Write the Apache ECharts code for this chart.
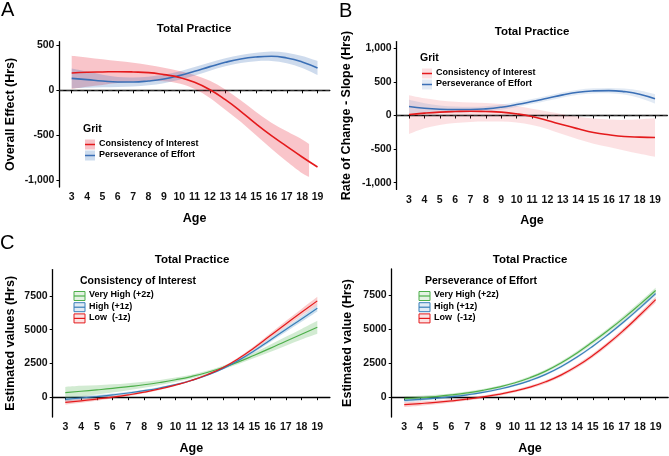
<!DOCTYPE html>
<html>
<head>
<meta charset="utf-8">
<title>Total Practice</title>
<script src="https://cdn.jsdelivr.net/npm/echarts@6/dist/echarts.min.js"></script>
<style>
    html, body { margin: 0; padding: 0; background: #fff; }
    #main { width: 669px; height: 456px; }
</style>
</head>
<body>
<div id="main"></div>
<script>
// ---- data ----
var ages = [3, 4, 5, 6, 7, 8, 9, 10, 11, 12, 13, 14, 15, 16, 17, 18, 19];
var ageTicks = ages;

// A: overall effect
var aTicks = [-1000, -500, 0, 500];
var aInterest = [193, 200, 204, 207, 204, 196, 174, 144, 89, 7, -104, -233, -374, -504, -622, -741, -852];
var aInterestBandAges = [3, 4, 5, 6, 7, 8, 9, 10, 11, 12, 13, 14, 15, 16, 17, 18, 18.45];
var aInterestHi = [385, 365, 345, 325, 305, 280, 250, 215, 170, 105, 10, -110, -240, -360, -455, -545, -595];
var aInterestLo = [15, 40, 60, 80, 95, 105, 100, 75, 15, -85, -215, -350, -500, -650, -790, -920, -960];
var aEffort = [133, 119, 104, 93, 93, 104, 126, 163, 211, 263, 311, 348, 370, 378, 359, 315, 248];
var aEffortHi = [243, 209, 174, 148, 143, 152, 173, 210, 258, 308, 356, 393, 417, 430, 417, 381, 326];
var aEffortLo = [23, 29, 34, 38, 43, 56, 79, 116, 164, 218, 266, 303, 323, 326, 301, 249, 170];

// B: rate of change
var bTicks = [-1000, -500, 0, 500, 1000];
var bInterest = [15, 35, 50, 59, 64, 59, 50, 25, -15, -74, -139, -198, -252, -287, -312, -322, -327];
var bInterestHi = [300, 255, 225, 205, 195, 185, 170, 140, 100, 60, 20, -20, -45, -60, -65, -55, -40];
var bInterestLo = [-275, -190, -140, -110, -95, -90, -90, -105, -140, -200, -280, -355, -420, -470, -520, -570, -615];
var bEffort = [134, 109, 94, 89, 89, 99, 124, 163, 208, 257, 307, 347, 366, 371, 356, 317, 248];
var bEffortHi = [234, 184, 149, 134, 129, 137, 162, 201, 246, 295, 345, 385, 404, 411, 401, 372, 318];
var bEffortLo = [34, 34, 39, 44, 49, 61, 86, 125, 170, 219, 269, 309, 328, 331, 311, 262, 178];

// C / D: estimated values
var cdTicks = [0, 2500, 5000, 7500];
var cVeryHigh = [340, 440, 540, 650, 780, 920, 1090, 1290, 1530, 1830, 2200, 2620, 3110, 3620, 4150, 4670, 5180];
var cVeryHighHi = [760, 840, 890, 950, 1040, 1140, 1280, 1450, 1670, 1960, 2330, 2780, 3320, 3890, 4480, 5060, 5660];
var cVeryHighLo = [-80, 40, 190, 350, 520, 700, 900, 1130, 1390, 1700, 2070, 2460, 2900, 3350, 3820, 4280, 4700];
var cHigh = [-170, -60, 50, 170, 310, 480, 680, 930, 1240, 1630, 2120, 2730, 3440, 4230, 5020, 5800, 6600];
var cHighHi = [0, 80, 170, 270, 395, 555, 750, 995, 1305, 1695, 2190, 2820, 3560, 4380, 5200, 6010, 6840];
var cHighLo = [-340, -200, -70, 70, 225, 405, 610, 865, 1175, 1565, 2050, 2640, 3320, 4080, 4840, 5590, 6360];
var cLow = [-380, -270, -140, 0, 170, 370, 610, 900, 1240, 1660, 2180, 2860, 3670, 4550, 5430, 6290, 7140];
var cLowHi = [-210, -130, -20, 100, 255, 445, 680, 965, 1305, 1725, 2255, 2960, 3800, 4720, 5640, 6540, 7440];
var cLowLo = [-550, -410, -260, -100, 85, 295, 540, 835, 1175, 1595, 2105, 2760, 3540, 4380, 5220, 6040, 6840];

var dVeryHigh = [-120, -50, 40, 160, 310, 500, 740, 1040, 1430, 1920, 2530, 3260, 4080, 4950, 5870, 6850, 7870];
var dVeryHighHi = [50, 100, 170, 270, 410, 595, 835, 1140, 1540, 2040, 2660, 3400, 4230, 5110, 6040, 7035, 8070];
var dVeryHighLo = [-290, -200, -90, 50, 210, 405, 645, 940, 1320, 1800, 2400, 3120, 3930, 4790, 5700, 6665, 7670];
var dHigh = [-240, -170, -80, 30, 170, 350, 580, 860, 1220, 1680, 2260, 2960, 3760, 4640, 5580, 6590, 7640];
var dHighHi = [-100, -50, 25, 120, 250, 425, 650, 930, 1295, 1760, 2345, 3050, 3855, 4740, 5690, 6710, 7780];
var dHighLo = [-380, -290, -185, -60, 90, 275, 510, 790, 1145, 1600, 2175, 2870, 3665, 4540, 5470, 6470, 7500];
var dLow = [-560, -480, -390, -280, -150, 10, 200, 440, 740, 1130, 1640, 2290, 3070, 3970, 4970, 6060, 7200];
var dLowHi = [-380, -320, -250, -160, -40, 110, 300, 545, 850, 1250, 1770, 2430, 3220, 4130, 5145, 6250, 7410];
var dLowLo = [-740, -640, -530, -400, -260, -90, 100, 335, 630, 1010, 1510, 2150, 2920, 3810, 4795, 5870, 6990];

// ---- style ----
var FONT = '"Liberation Sans", Arial, sans-serif';
var RED = '#e41a1c';
var BLUE = '#3a6fb6';
var BLUE2 = '#377eb8';
var GREEN = '#4daf4a';

function fmtComma(v) {
    return Number(v).toLocaleString('en-US');
}
function fmtPlain(v) {
    return String(v);
}

function pairs(xs, ys) {
    return xs.map(function (x, i) { return [x, ys[i]]; });
}

function xAxisCfg(gi) {
    return {
        type: 'value', gridIndex: gi, min: 2.2, max: 19.8,
        name: 'Age', nameLocation: 'middle', nameGap: 25,
        nameTextStyle: { fontFamily: FONT, fontWeight: 'bold', fontSize: 12.5, color: '#000' },
        axisLine: { lineStyle: { color: '#000', width: 1.3 } },
        axisTick: { show: true, length: 3, customValues: ageTicks, lineStyle: { color: '#000' } },
        axisLabel: { customValues: ageTicks, margin: 5, fontFamily: FONT, fontWeight: 'bold', fontSize: 10.5, color: '#111' },
        splitLine: { show: false }
    };
}

function yAxisCfg(gi, min, max, ticks, name, gap, fmt) {
    return {
        type: 'value', gridIndex: gi, min: min, max: max,
        name: name, nameLocation: 'middle', nameGap: gap, nameRotate: 90,
        nameTextStyle: { fontFamily: FONT, fontWeight: 'bold', fontSize: 12.5, color: '#000' },
        axisLine: { show: true, lineStyle: { color: '#000', width: 1.3 } },
        axisTick: { show: true, length: 3, customValues: ticks, lineStyle: { color: '#000' } },
        axisLabel: { customValues: ticks, margin: 5, formatter: fmt, fontFamily: FONT, fontWeight: 'bold', fontSize: 10.5, color: '#111' },
        splitLine: { show: false }
    };
}

function lineSeries(gi, name, xs, ys, color, width) {
    return {
        type: 'line', name: name, xAxisIndex: gi, yAxisIndex: gi,
        data: pairs(xs, ys), smooth: true, showSymbol: false, silent: true, z: 5,
        lineStyle: { color: color, width: width }, itemStyle: { color: color }
    };
}

// smooth curve through pixel points (catmull-rom as bezier), continues a path
function curveTo(pts) {
    var d = '';
    for (var i = 0; i < pts.length - 1; i++) {
        var p0 = pts[Math.max(i - 1, 0)], p1 = pts[i], p2 = pts[i + 1], p3 = pts[Math.min(i + 2, pts.length - 1)];
        var c1 = [p1[0] + (p2[0] - p0[0]) / 6, p1[1] + (p2[1] - p0[1]) / 6];
        var c2 = [p2[0] - (p3[0] - p1[0]) / 6, p2[1] - (p3[1] - p1[1]) / 6];
        d += ' C' + c1[0] + ' ' + c1[1] + ' ' + c2[0] + ' ' + c2[1] + ' ' + p2[0] + ' ' + p2[1];
    }
    return d;
}

// ribbon drawn as one filled path through the axes' own coordinate mapping
function bandSeries(gi, xs, lo, hi, fill) {
    return {
        type: 'custom', xAxisIndex: gi, yAxisIndex: gi, silent: true, z: 2, clip: true,
        data: xs.map(function (x, i) { return [x, lo[i], hi[i]]; }),
        encode: { x: 0, y: [1, 2] },
        renderItem: function (params, api) {
            if (params.dataIndex !== 0) return;
            var top = [], bot = [];
            for (var i = 0; i < xs.length; i++) top.push(api.coord([xs[i], hi[i]]));
            for (var j = xs.length - 1; j >= 0; j--) bot.push(api.coord([xs[j], lo[j]]));
            var d = 'M' + top[0][0] + ' ' + top[0][1] + curveTo(top) +
                ' L' + bot[0][0] + ' ' + bot[0][1] + curveTo(bot) + ' Z';
            return { type: 'path', shape: { pathData: d }, style: { fill: fill } };
        }
    };
}

function zeroLine(gi) {
    return {
        type: 'line', xAxisIndex: gi, yAxisIndex: gi, data: [], silent: true,
        markLine: {
            symbol: 'none', silent: true, label: { show: false },
            lineStyle: { color: '#333', type: [4, 3], width: 1 },
            data: [{ yAxis: 0 }]
        }
    };
}

// ggplot-like legends made of plain graphic pieces
function gritLegend(x, y, items) {
    var els = [{
        type: 'text', left: x, top: y - 6,
        style: { text: 'Grit', font: 'bold 10.5px ' + FONT, fill: '#000' }
    }];
    items.forEach(function (it, i) {
        var cy = y + 14.5 + i * 11;
        els.push({ type: 'rect', shape: { x: x + 2, y: cy - 5, width: 10, height: 10 }, style: { fill: it.fill } });
        els.push({ type: 'line', shape: { x1: x + 2, y1: cy, x2: x + 12, y2: cy }, style: { stroke: it.color, lineWidth: 1.5 } });
        els.push({
            type: 'text', left: x + 16, top: cy - 5.5,
            style: { text: it.label, font: 'bold 9px ' + FONT, fill: '#000' }
        });
    });
    return els;
}

function levelLegend(x, y, title, items) {
    var els = [{
        type: 'text', left: x + 6, top: y - 6,
        style: { text: title, font: 'bold 10.5px ' + FONT, fill: '#000' }
    }];
    items.forEach(function (it, i) {
        var cy = y + 14 + i * 11.2;
        els.push({ type: 'rect', shape: { x: x, y: cy - 4.5, width: 11, height: 9 }, style: { fill: it.fill, stroke: it.color, lineWidth: 1 } });
        els.push({ type: 'line', shape: { x1: x, y1: cy, x2: x + 11, y2: cy }, style: { stroke: it.color, lineWidth: 1.2 } });
        els.push({
            type: 'text', left: x + 15, top: cy - 5.5,
            style: { text: it.label, font: 'bold 9px ' + FONT, fill: '#000' }
        });
    });
    return els;
}

var levels = ['Very High (+2z)', 'High (+1z)', 'Low  (-1z)'];

var chart = echarts.init(document.getElementById('main'), null, { renderer: 'canvas' });

var titleStyle = { fontFamily: FONT, fontWeight: 'bold', fontSize: 11.5, color: '#000' };
var letterStyle = { fontFamily: FONT, fontWeight: 'normal', fontSize: 20, color: '#000' };

var option = {
    backgroundColor: '#fff',
    animation: false,
    title: [
        { text: 'A', left: 1, top: 0, padding: 0, textStyle: letterStyle },
        { text: 'B', left: 339, top: 1, padding: 0, textStyle: letterStyle },
        { text: 'C', left: 0, top: 233, padding: 0, textStyle: letterStyle },
        { text: 'Total Practice', left: 194, top: 23, padding: 0, textAlign: 'center', textStyle: titleStyle },
        { text: 'Total Practice', left: 532, top: 26, padding: 0, textAlign: 'center', textStyle: titleStyle },
        { text: 'Total Practice', left: 192, top: 254, padding: 0, textAlign: 'center', textStyle: titleStyle },
        { text: 'Total Practice', left: 530, top: 254, padding: 0, textAlign: 'center', textStyle: titleStyle }
    ],
    grid: [
        { left: 59.4, top: 41.7, width: 270.4, height: 145.4 },
        { left: 396.7, top: 41.6, width: 270.6, height: 147.8 },
        { left: 52.7, top: 269.6, width: 277.2, height: 148.7 },
        { left: 391.7, top: 269, width: 276.5, height: 148.7 }
    ],
    xAxis: [xAxisCfg(0), xAxisCfg(1), xAxisCfg(2), xAxisCfg(3)],
    yAxis: [
        yAxisCfg(0, -1075, 540, aTicks, 'Overall Effect (Hrs)', 42, fmtComma),
        yAxisCfg(1, -1100, 1100, bTicks, 'Rate of Change - Slope (Hrs)', 44, fmtComma),
        yAxisCfg(2, -1470, 9460, cdTicks, 'Estimated values (Hrs)', 36, fmtPlain),
        yAxisCfg(3, -1470, 9460, cdTicks, 'Estimated value (Hrs)', 38, fmtPlain)
    ],
    series: [
        zeroLine(0),
        bandSeries(0, aInterestBandAges, aInterestLo, aInterestHi, 'rgba(232,40,60,0.27)'),
        bandSeries(0, ages, aEffortLo, aEffortHi, 'rgba(58,111,182,0.25)'),
        lineSeries(0, 'Perseverance of Effort', ages, aEffort, BLUE, 1.6),
        lineSeries(0, 'Consistency of Interest', ages, aInterest, RED, 1.6),

        zeroLine(1),
        bandSeries(1, ages, bInterestLo, bInterestHi, 'rgba(232,40,60,0.14)'),
        bandSeries(1, ages, bEffortLo, bEffortHi, 'rgba(58,111,182,0.15)'),
        lineSeries(1, 'Perseverance of Effort', ages, bEffort, BLUE, 1.6),
        lineSeries(1, 'Consistency of Interest', ages, bInterest, RED, 1.6),

        bandSeries(2, ages, cVeryHighLo, cVeryHighHi, 'rgba(77,175,74,0.25)'),
        bandSeries(2, ages, cHighLo, cHighHi, 'rgba(55,126,184,0.25)'),
        bandSeries(2, ages, cLowLo, cLowHi, 'rgba(228,26,28,0.22)'),
        lineSeries(2, levels[0], ages, cVeryHigh, GREEN, 1.2),
        lineSeries(2, levels[1], ages, cHigh, BLUE2, 1.2),
        lineSeries(2, levels[2], ages, cLow, RED, 1.2),

        bandSeries(3, ages, dVeryHighLo, dVeryHighHi, 'rgba(77,175,74,0.25)'),
        bandSeries(3, ages, dHighLo, dHighHi, 'rgba(55,126,184,0.25)'),
        bandSeries(3, ages, dLowLo, dLowHi, 'rgba(228,26,28,0.22)'),
        lineSeries(3, levels[0], ages, dVeryHigh, GREEN, 1.2),
        lineSeries(3, levels[1], ages, dHigh, BLUE2, 1.2),
        lineSeries(3, levels[2], ages, dLow, RED, 1.2)
    ],
    graphic: [].concat(
        gritLegend(83, 130, [
            { label: 'Consistency of Interest', color: RED, fill: '#f7c3c9' },
            { label: 'Perseverance of Effort', color: BLUE, fill: '#cddcee' }
        ]),
        gritLegend(420, 59, [
            { label: 'Consistency of Interest', color: RED, fill: '#fbe0e3' },
            { label: 'Perseverance of Effort', color: BLUE, fill: '#e2eaf5' }
        ]),
        levelLegend(74, 282, 'Consistency of Interest', [
            { label: levels[0], color: GREEN, fill: '#e4f2e3' },
            { label: levels[1], color: BLUE2, fill: '#e1ebf4' },
            { label: levels[2], color: RED, fill: '#fbe3e3' }
        ]),
        levelLegend(419, 282, 'Perseverance of Effort', [
            { label: levels[0], color: GREEN, fill: '#e4f2e3' },
            { label: levels[1], color: BLUE2, fill: '#e1ebf4' },
            { label: levels[2], color: RED, fill: '#fbe3e3' }
        ])
    )
};

chart.setOption(option);
</script>
</body>
</html>
